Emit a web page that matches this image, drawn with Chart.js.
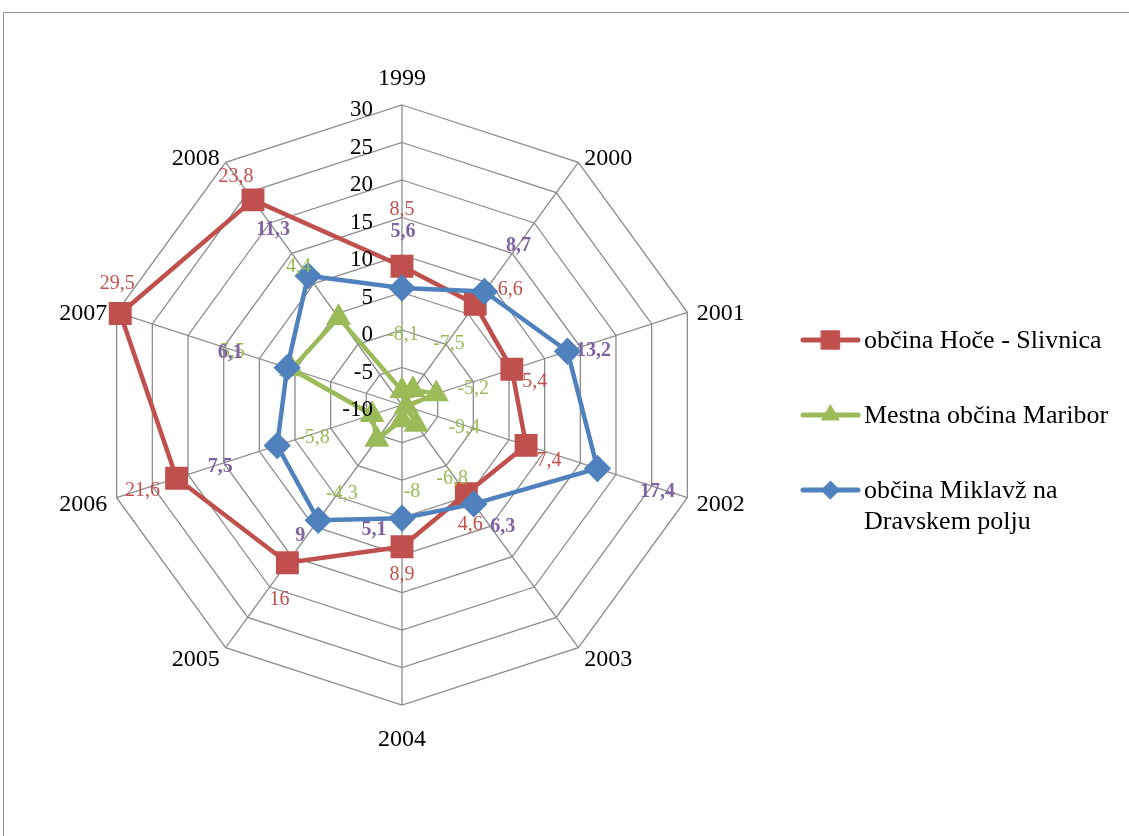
<!DOCTYPE html>
<html>
<head>
<meta charset="utf-8">
<title>Stopnja rasti</title>
<script src="https://cdn.jsdelivr.net/npm/chart.js@4.4.1/dist/chart.umd.min.js"></script>
<style>
  html, body { margin: 0; padding: 0; background: #fff; }
  #wrap { position: relative; width: 1129px; height: 836px; }
</style>
</head>
<body>
<div id="wrap"><canvas id="radar" width="1129" height="836"></canvas></div>
<script>
// years on the spokes
const years = ['1999', '2000', '2001', '2002', '2003', '2004', '2005', '2006', '2007', '2008'];

// series values
const hoceSlivnica = [8.5, 6.6, 5.4, 7.4, 4.6, 8.9, 16, 21.6, 29.5, 23.8];
const maribor = [-8.1, -7.5, -5.2, -9.4, -6.8, -8, -4.3, -5.8, 5.5, 4.4];
const miklavz = [5.6, 8.7, 13.2, 17.4, 6.3, 5.1, 9, 7.5, 6.1, 11.3];

// radial axis range
const axisMin = -10;
const axisMax = 30;
const axisStep = 5;

// where each value label sits relative to its point (px)
const hoceLabelOffsets = [[0, -57], [35, -15], [23, 12], [23, 15], [4, 31], [0, 28], [-8, 37], [-34, 13], [-3, -30], [-17, -23]];
const mariborLabelOffsets = [[1, -56], [36, -46], [37, -5], [58, 21], [36, 54], [10, 72], [-35, 54], [-58, 23], [-59, -17], [-40, -51]];
const miklavzLabelOffsets = [[1, -56], [34, -46], [26, 0], [60, 23], [29, 23], [-28, 12], [-18, 16], [-57, 21], [-57, -15], [-35, -46]];

const FONT = '"Liberation Serif", "Times New Roman", serif';
Chart.defaults.font.family = FONT;

// frame, axis numbers, year labels, value labels and the legend
const radarExtras = {
  id: 'radarExtras',
  beforeDraw(chart) {
    const ctx = chart.ctx;
    ctx.save();
    ctx.strokeStyle = '#8e8e8e';
    ctx.lineWidth = 1;
    ctx.beginPath();
    ctx.moveTo(3.5, chart.height);
    ctx.lineTo(3.5, 12.5);
    ctx.lineTo(chart.width, 12.5);
    ctx.stroke();
    ctx.restore();
  },
  afterDatasetsDraw(chart) {
    const ctx = chart.ctx;
    const r = chart.scales.r;
    ctx.save();

    // tick numbers left of the 1999 spoke
    ctx.font = '23px ' + FONT;
    ctx.fillStyle = '#000';
    ctx.textAlign = 'right';
    ctx.textBaseline = 'middle';
    r.ticks.forEach(t => {
      const d = r.getDistanceFromCenterForValue(t.value);
      ctx.fillText(String(t.value), r.xCenter - 29, r.yCenter - d + 5);
    });

    // year labels at the spoke ends
    ctx.font = '24px ' + FONT;
    years.forEach((lab, i) => {
      const a = r.getIndexAngle(i);
      const end = r.getPointPosition(i, r.drawingArea);
      const s = Math.sin(a), c = Math.cos(a);
      let x = end.x + s * 10;
      let y = end.y - c * 10 + 4;
      let align = s > 0 ? 'left' : 'right';
      if (Math.abs(s) < 0.01) {
        align = 'center';
        y = c > 0 ? end.y - 26 : end.y + 35;
      }
      ctx.textAlign = align;
      ctx.fillText(lab, x, y);
    });

    // value labels
    ctx.textAlign = 'center';
    chart.data.datasets.forEach((ds, di) => {
      const meta = chart.getDatasetMeta(di);
      ctx.font = (ds.labelBold ? 'bold ' : '') + '20px ' + FONT;
      ctx.fillStyle = ds.labelColor;
      meta.data.forEach((pt, i) => {
        const off = ds.labelOffsets[i];
        ctx.fillText(String(ds.data[i]).replace('.', ','), pt.x + off[0], pt.y + off[1]);
      });
    });

    // legend on the right
    const lineX0 = 803, lineX1 = 858, textX = 864, maxW = 258;
    const rowsY = [340, 415, 490];
    ctx.font = '26px ' + FONT;
    ctx.textAlign = 'left';
    chart.data.datasets.forEach((ds, di) => {
      const y = rowsY[di];
      ctx.strokeStyle = ds.borderColor;
      ctx.fillStyle = ds.borderColor;
      ctx.lineWidth = 5;
      ctx.lineCap = 'round';
      ctx.beginPath();
      ctx.moveTo(lineX0, y);
      ctx.lineTo(lineX1, y);
      ctx.stroke();
      ctx.lineWidth = 1;
      Chart.helpers.drawPoint(ctx, {
        pointStyle: ds.pointStyle, radius: ds.legendRadius, rotation: 0, borderWidth: 1
      }, (lineX0 + lineX1) / 2, y);

      // wrap long names
      const words = ds.label.split(' ');
      const lines = [];
      let cur = '';
      words.forEach(w => {
        const test = cur ? cur + ' ' + w : w;
        if (ctx.measureText(test).width > maxW && cur) {
          lines.push(cur);
          cur = w;
        } else {
          cur = test;
        }
      });
      lines.push(cur);
      ctx.fillStyle = '#000';
      lines.forEach((ln, k) => ctx.fillText(ln, textX, y + 1 + k * 31));
    });

    ctx.restore();
  }
};

new Chart(document.getElementById('radar'), {
  type: 'radar',
  data: {
    labels: years,
    datasets: [
      {
        label: 'občina Hoče - Slivnica',
        data: hoceSlivnica,
        borderColor: '#C0504D',
        backgroundColor: '#C0504D',
        pointBackgroundColor: '#C0504D',
        pointBorderColor: '#C0504D',
        pointStyle: 'rect',
        pointRadius: 13,
        legendRadius: 13,
        borderWidth: 4.5,
        fill: false,
        order: 2,
        labelColor: '#C0504D',
        labelBold: false,
        labelOffsets: hoceLabelOffsets
      },
      {
        label: 'Mestna občina Maribor',
        data: maribor,
        borderColor: '#9BBB59',
        backgroundColor: '#9BBB59',
        pointBackgroundColor: '#9BBB59',
        pointBorderColor: '#9BBB59',
        pointStyle: 'triangle',
        pointRadius: 10,
        legendRadius: 10,
        borderWidth: 4.5,
        fill: false,
        order: 1,
        labelColor: '#9BBB59',
        labelBold: false,
        labelOffsets: mariborLabelOffsets
      },
      {
        label: 'občina Miklavž na Dravskem polju',
        data: miklavz,
        borderColor: '#4F81BD',
        backgroundColor: '#4F81BD',
        pointBackgroundColor: '#4F81BD',
        pointBorderColor: '#4F81BD',
        pointStyle: 'rectRot',
        pointRadius: 10.5,
        legendRadius: 9,
        borderWidth: 4.5,
        fill: false,
        order: 0,
        labelColor: '#8064A2',
        labelBold: true,
        labelOffsets: miklavzLabelOffsets
      }
    ]
  },
  options: {
    responsive: false,
    animation: false,
    layout: {
      padding: { left: 102, right: 427, top: 105, bottom: 131 }
    },
    elements: {
      line: { tension: 0 }
    },
    plugins: {
      legend: { display: false },
      tooltip: { enabled: false }
    },
    scales: {
      r: {
        min: axisMin,
        max: axisMax,
        ticks: { stepSize: axisStep, display: false },
        grid: { color: '#8c8c8c', lineWidth: 1.3 },
        angleLines: { color: '#8c8c8c', lineWidth: 1.3 },
        pointLabels: { display: false }
      }
    }
  },
  plugins: [radarExtras]
});
</script>
</body>
</html>
